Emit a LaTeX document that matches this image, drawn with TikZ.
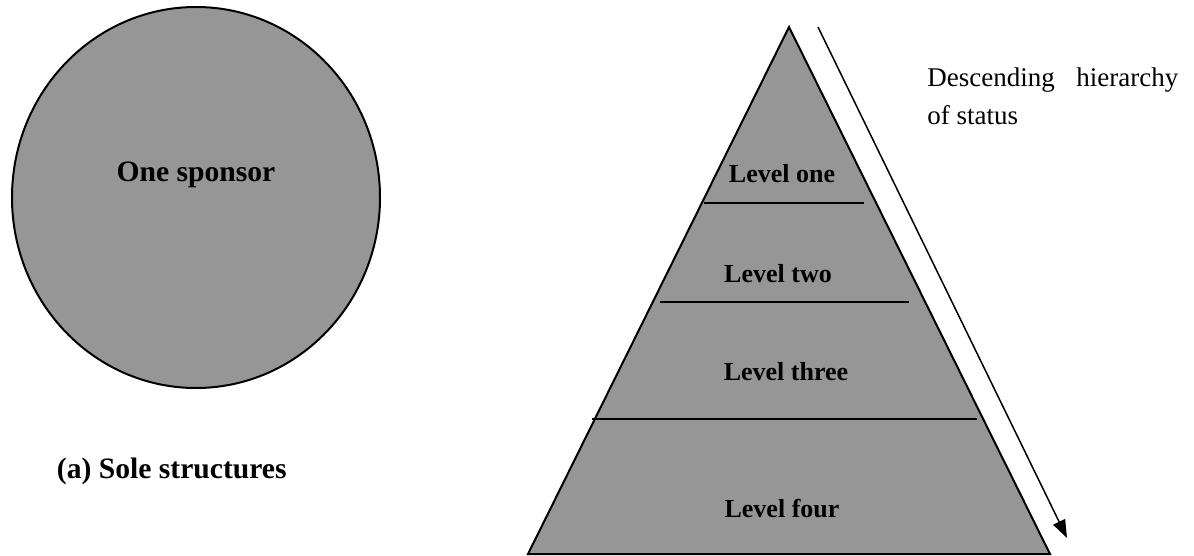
\documentclass[tikz,border=0pt]{standalone}
\usepackage{fontspec}
\setmainfont{Liberation Serif}
\usetikzlibrary{arrows.meta}
\definecolor{layerfill}{RGB}{150,150,150}
\begin{document}
\begin{tikzpicture}[x=0.5pt,y=-0.5pt,
  shapeoutline/.style={draw=black, line width=1pt, fill=layerfill},
  divider/.style={draw=black, line width=1pt},
  boldlabel/.style={font=\fontsize{14.8}{17}\selectfont\bfseries, inner sep=0pt},
  levellabel/.style={font=\fontsize{13}{15}\selectfont\bfseries, anchor=base, inner sep=0pt},
  note/.style={font=\fontsize{13.5}{19}\selectfont, anchor=base west, inner sep=0pt},
  statusarrow/.style={-{Triangle[length=9pt,width=6.5pt]}, line width=0.75pt}]
\useasboundingbox (0,0) rectangle (1194,556);

% (a) sole structure: a single filled disc
\path[shapeoutline] (196,197.5) ellipse [x radius=92pt, y radius=95.25pt];
\node[boldlabel, anchor=base] (sponsor) at (196,182) {One sponsor};
\node[boldlabel, anchor=base east] (caption) at (287,478) {(a) Sole structures};

% layered pyramid
\coordinate (apex) at (789,27);
\coordinate (baseR) at (1050,554);
\coordinate (baseL) at (528,554);
\path[shapeoutline] (apex) -- (baseR) -- (baseL) -- cycle;

\coordinate (d1L) at (704,203); \coordinate (d1R) at (864,203);
\coordinate (d2L) at (660,302); \coordinate (d2R) at (909,302);
\coordinate (d3L) at (592,419); \coordinate (d3R) at (977,419);
\draw[divider] (d1L) -- (d1R);
\draw[divider] (d2L) -- (d2R);
\draw[divider] (d3L) -- (d3R);

\node[levellabel] (lvl1) at (782,183) {Level one};
\node[levellabel] (lvl2) at (778,282) {Level two};
\node[levellabel] (lvl3) at (786,380) {Level three};
\node[levellabel] (lvl4) at (782,517) {Level four};

% direction of status
\coordinate (arrowtop) at (818,27);
\coordinate (arrowtip) at (1067,538);
\draw[statusarrow] (arrowtop) -- (arrowtip);

\node[note] (status) at (927,87)
  {\parbox[t]{125.5pt}{\baselineskip=19pt Descending\hfill hierarchy\\of status}};
\end{tikzpicture}
\end{document}
